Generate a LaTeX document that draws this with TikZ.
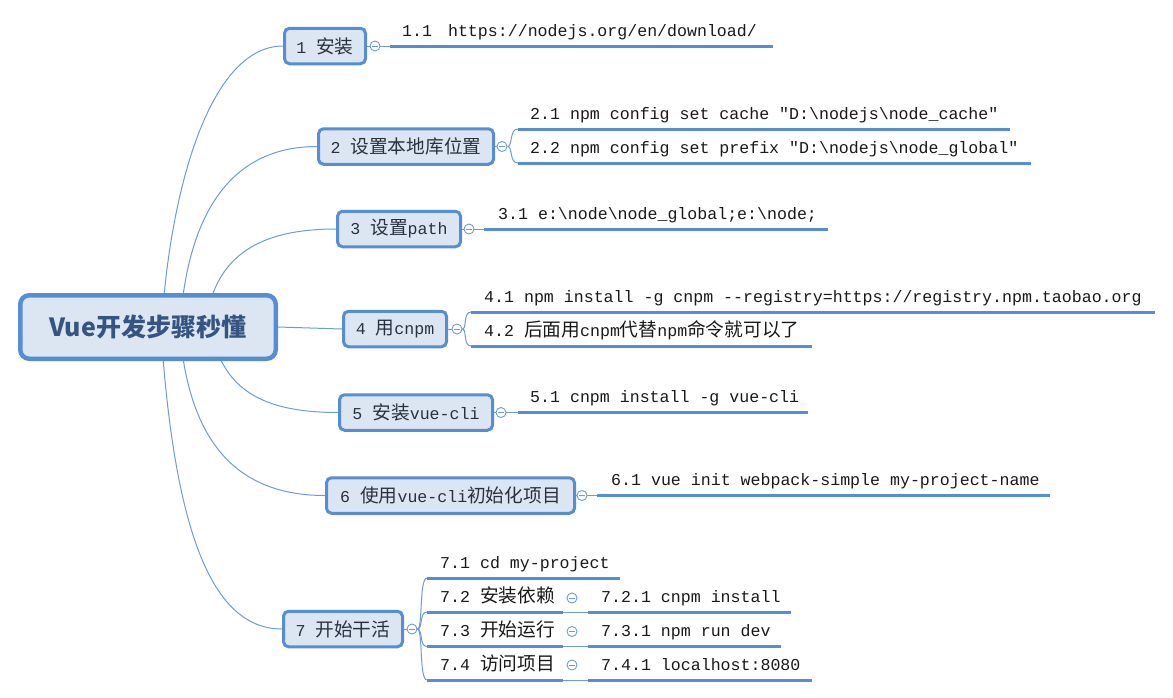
\documentclass[tikz,border=0pt]{standalone}
\usepackage{fontspec}
\setmonofont{Liberation Mono}
\newfontfamily\cjkfont{Noto Sans CJK SC}
\definecolor{bordc}{RGB}{85,142,213}
\definecolor{fillc}{RGB}{220,230,242}
\definecolor{thinc}{RGB}{110,155,215}
\definecolor{txtc}{RGB}{25,25,25}
\definecolor{topc}{RGB}{40,48,66}
\definecolor{rootc}{RGB}{52,84,130}
\newcommand\zh[1]{{\cjkfont\fontsize{18.7}{22}\selectfont #1}}
\newcommand\bs{\textbackslash}
\pgfdeclarelayer{bg}\pgfsetlayers{bg,main}
\begin{document}
\begin{tikzpicture}[x=1pt,y=-1pt,
 rootbox/.style={draw=bordc, fill=fillc, line width=4.5pt, rounded corners=9pt, minimum width=255.5pt, minimum height=63.5pt, inner sep=0pt, text=rootc, font=\cjkfont\bfseries\fontsize{25}{28}\selectfont},
 topic/.style={draw=bordc, fill=fillc, line width=3pt, rounded corners=5pt, minimum height=35.5pt, inner sep=0pt, text=topc, font=\ttfamily\fontsize{16.6}{20}\selectfont},
 fold/.style={circle, draw=thinc, fill=white, line width=0.9pt, minimum size=10pt, inner sep=0pt, path picture={\draw[thinc, line width=0.9pt] ([xshift=-3pt]path picture bounding box.center) -- ([xshift=3pt]path picture bounding box.center);}},
 leaf/.style={anchor=base west, inner sep=0pt, text=txtc, font=\ttfamily\fontsize{16.6}{20}\selectfont},
 uline/.style={draw=bordc, line width=3pt},
 thin/.style={draw=thinc, line width=1pt},
 branch/.style={draw=thinc, line width=1pt}
]
\begin{pgfonlayer}{bg}
\fill[white] (0,0) rectangle (1173,697);
\end{pgfonlayer}
\useasboundingbox (0,0) rectangle (1173,697);

% root and topics
\node[rootbox] (root) at (148,327) {Vue开发步骤秒懂};
\node[topic, minimum width=81] (t1) at (325,46) {1 \zh{安装}};
\node[topic, minimum width=175] (t2) at (406,146.5) {2 \zh{设置本地库位置}};
\node[topic, minimum width=123] (t3) at (399,229) {3 \zh{设置}path};
\node[topic, minimum width=103] (t4) at (395,329) {4 \zh{用}cnpm};
\node[topic, minimum width=153] (t5) at (416,412.5) {5 \zh{安装}vue-cli};
\node[topic, minimum width=248] (t6) at (450.5,495.5) {6 \zh{使用}vue-cli\zh{初始化项目}};
\node[topic, minimum width=119] (t7) at (343,629) {7 \zh{开始干活}};

% branches from root
\coordinate (s1) at (164,296);
\coordinate (s2) at (183,296);
\coordinate (s3) at (212,296);
\coordinate (s5) at (220,358);
\coordinate (s6) at (183,358);
\coordinate (s7) at (163,358);
\begin{pgfonlayer}{bg}
\draw[branch] (s1) .. controls (176,170) and (215,46) .. (t1.west);
\draw[branch] (s2) .. controls (196,200) and (240,146.5) .. (t2.west);
\draw[branch] (s3) .. controls (228,250) and (268,229) .. (t3.west);
\draw[branch] (root.east) -- (t4.west);
\draw[branch] (s5) .. controls (238,398) and (278,412.5) .. (t5.west);
\draw[branch] (s6) .. controls (198,455) and (248,495.5) .. (t6.west);
\draw[branch] (s7) .. controls (178,540) and (215,629) .. (t7.west);
\end{pgfonlayer}

% fold circles
\node[fold] (f1) at (375,46) {};
\node[fold] (f2) at (502,146.5) {};
\node[fold] (f3) at (469,229) {};
\node[fold] (f4) at (457,329) {};
\node[fold] (f5) at (501,412.5) {};
\node[fold] (f6) at (582,495.5) {};
\node[fold] (f7) at (412,629) {};
\foreach \i in {1,...,7} {\draw[thin] (t\i.east) -- (f\i.west);}

% 1
\coordinate (a11) at (390,46); \coordinate (b11) at (773,46);
\draw[thin] (f1.east) -- (a11);
\draw[uline] (a11) -- (b11);
\node[leaf] (x11) at (402,36) {1.1\hspace{16pt}https://nodejs.org/en/download/};

% 2
\coordinate (a21) at (518,129); \coordinate (b21) at (1010,129);
\coordinate (a22) at (518,163); \coordinate (b22) at (1031,163);
\draw[thin] (f2.east) .. controls (513,146.5) and (509,129) .. (a21);
\draw[thin] (f2.east) .. controls (513,146.5) and (509,163) .. (a22);
\draw[uline] (a21) -- (b21);
\draw[uline] (a22) -- (b22);
\node[leaf] (x21) at (530,119) {2.1 npm config set cache "D:\bs nodejs\bs node\_cache"};
\node[leaf] (x22) at (530,153) {2.2 npm config set prefix "D:\bs nodejs\bs node\_global"};

% 3
\coordinate (a31) at (484,229); \coordinate (b31) at (828,229);
\draw[thin] (f3.east) -- (a31);
\draw[uline] (a31) -- (b31);
\node[leaf] (x31) at (498,219) {3.1 e:\bs node\bs node\_global;e:\bs node;};

% 4
\coordinate (a41) at (471,312); \coordinate (b41) at (1155,312);
\coordinate (a42) at (471,346); \coordinate (b42) at (812,346);
\draw[thin] (f4.east) .. controls (467,329) and (463,312) .. (a41);
\draw[thin] (f4.east) .. controls (467,329) and (463,346) .. (a42);
\draw[uline] (a41) -- (b41);
\draw[uline] (a42) -- (b42);
\node[leaf] (x41) at (484,302) {4.1 npm install -g cnpm --registry=https://registry.npm.taobao.org};
\node[leaf] (x42) at (484,336) {4.2 \zh{后面用}cnpm\zh{代替}npm\zh{命令就可以了}};

% 5
\coordinate (a51) at (518,412.5); \coordinate (b51) at (808,412.5);
\draw[thin] (f5.east) -- (a51);
\draw[uline] (a51) -- (b51);
\node[leaf] (x51) at (530,402.5) {5.1 cnpm install -g vue-cli};

% 6
\coordinate (a61) at (597,495.5); \coordinate (b61) at (1050,495.5);
\draw[thin] (f6.east) -- (a61);
\draw[uline] (a61) -- (b61);
\node[leaf] (x61) at (611,485.5) {6.1 vue init webpack-simple my-project-name};

% 7
\coordinate (a71) at (427,578); \coordinate (b71) at (620,578);
\coordinate (a72) at (427,612); \coordinate (b72) at (563,612);
\coordinate (a73) at (427,646.5); \coordinate (b73) at (563,646.5);
\coordinate (a74) at (427,680); \coordinate (b74) at (563,680);
\draw[thin] (f7.east) .. controls (423,629) and (419,578) .. (a71);
\draw[thin] (f7.east) .. controls (423,629) and (419,612) .. (a72);
\draw[thin] (f7.east) .. controls (423,629) and (419,646.5) .. (a73);
\draw[thin] (f7.east) .. controls (423,629) and (419,680) .. (a74);
\draw[uline] (a71) -- (b71);
\draw[uline] (a72) -- (b72);
\draw[uline] (a73) -- (b73);
\draw[uline] (a74) -- (b74);
\node[leaf] (x71) at (440,568) {7.1 cd my-project};
\node[leaf] (x72) at (440,602) {7.2 \zh{安装依赖}};
\node[leaf] (x73) at (440,636.5) {7.3 \zh{开始运行}};
\node[leaf] (x74) at (440,670) {7.4 \zh{访问项目}};
\node[fold] (g72) at (572,598) {};
\node[fold] (g73) at (572,631.5) {};
\node[fold] (g74) at (572,665) {};
\coordinate (c72) at (588,612); \coordinate (d72) at (791,612);
\coordinate (c73) at (588,646.5); \coordinate (d73) at (781,646.5);
\coordinate (c74) at (588,680); \coordinate (d74) at (812,680);
\draw[thin] (b72) -- (c72);
\draw[thin] (b73) -- (c73);
\draw[thin] (b74) -- (c74);
\draw[uline] (c72) -- (d72);
\draw[uline] (c73) -- (d73);
\draw[uline] (c74) -- (d74);
\node[leaf] (y72) at (601,602) {7.2.1 cnpm install};
\node[leaf] (y73) at (601,636.5) {7.3.1 npm run dev};
\node[leaf] (y74) at (601,670) {7.4.1 localhost:8080};
\end{tikzpicture}
\end{document}
